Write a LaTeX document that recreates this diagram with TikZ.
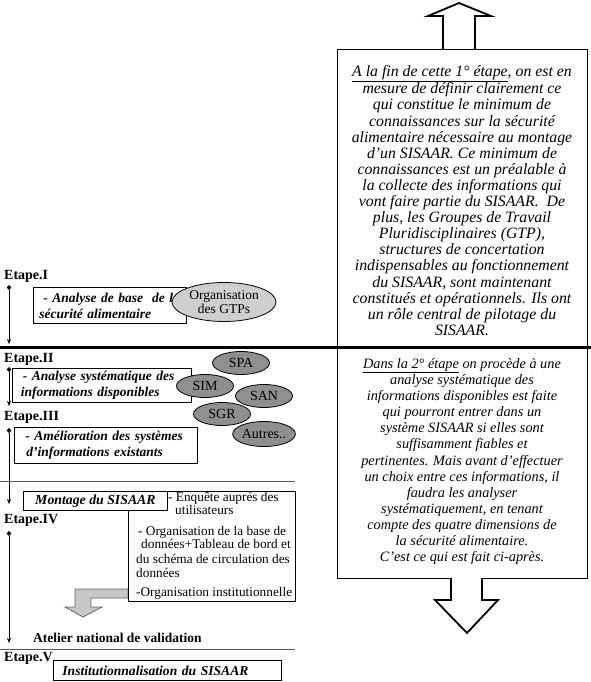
\documentclass[tikz,border=0pt]{standalone}
\usepackage{fontspec}
\setmainfont{Liberation Serif}
\usetikzlibrary{arrows.meta,shapes.geometric}
\begin{document}
\begin{tikzpicture}[x=1pt,y=-1pt,
  etape/.style={font=\fontsize{14}{15}\selectfont\bfseries, anchor=west, inner sep=0},
  stepbox/.style={draw, line width=0.9pt, fill=white, inner xsep=6pt, inner ysep=0, align=left,
    font=\fontsize{13.5}{16}\selectfont\bfseries\itshape, anchor=north west},
  span/.style={line width=0.6pt, {Diamond[length=5pt,width=4.5pt]}-{Stealth[length=5pt,width=4pt]}},
  lightell/.style={ellipse, draw, line width=0.8pt, fill=black!19, inner sep=0, font=\fontsize{13.5}{14.5}\selectfont, align=center},
  darkell/.style={ellipse, draw, line width=0.8pt, fill=black!44, inner sep=0, minimum width=57pt, minimum height=23pt, font=\fontsize{14}{15}\selectfont},
  rtext/.style={align=center, inner sep=0, anchor=north, font=\fontsize{15.8}{16.1}\selectfont\itshape},
  ltext/.style={align=left, inner sep=0, anchor=north west, font=\fontsize{13.3}{13}\selectfont},
  sep/.style={draw=black!65, line width=0.6pt},
  hollow/.style={draw=black, line width=1.8pt, line join=miter, fill=white}
]
\useasboundingbox (0,0) rectangle (591,682);

% right box and arrows
\node[draw, line width=0.9pt, minimum width=250pt, minimum height=529pt, anchor=north west, inner sep=0] (rbox) at (337,49) {};
\draw[hollow] (443,49) -- (443,16) -- (428,16) -- (459,3) -- (491,16) -- (475,16) -- (475,49);
\draw[hollow] (451,578) -- (451,600) -- (435,600) -- (467,633) -- (498,600) -- (482,600) -- (482,578);

\node[rtext] (t1) at (462,65) {\underline{A la fin de cette 1° étape}, on est en\\
mesure de définir clairement ce\\
qui constitue le minimum de\\
connaissances sur la sécurité\\
alimentaire nécessaire au montage\\
d'un SISAAR. Ce minimum de\\
connaissances est un préalable à\\
la collecte des informations qui\\
vont faire partie du SISAAR.\ \ De\\
plus, les Groupes de Travail\\
Pluridisciplinaires (GTP),\\
structures de concertation\\
indispensables au fonctionnement\\
du SISAAR, sont maintenant\\
constitués et opérationnels. Ils ont\\
un rôle central de pilotage du\\
SISAAR.};

\node[rtext, font=\fontsize{14.3}{16.15}\selectfont\itshape] (t2) at (462,358) {\underline{Dans la 2° étape} on procède à une\\
analyse systématique des\\
informations disponibles est faite\\
qui pourront entrer dans un\\
système SISAAR si elles sont\\
suffisamment fiables et\\
pertinentes. Mais avant d'effectuer\\
un choix entre ces informations, il\\
faudra les analyser\\
systématiquement, en tenant\\
compte des quatre dimensions de\\
la sécurité alimentaire.\\
C'est ce qui est fait ci-après.};

% thick separator
\coordinate (thl) at (0,347);
\coordinate (thr) at (591,347);
\draw[line width=3pt] (thl) -- (thr);

% Etape I
\node[etape] (e1) at (4,276) {Etape.I};
\coordinate (s1a) at (9,285); \coordinate (s1b) at (9,344);
\draw[span] (s1a) -- (s1b);
\node[stepbox, minimum width=153pt, minimum height=36pt, text width=141pt] (b1) at (33,287)
  {\hspace*{4pt}- Analyse de base\ \ de la\\sécurité alimentaire};
\node[lightell, minimum width=104pt, minimum height=39pt] (gtp) at (224,302) {Organisation\\des GTPs};

% Etape II
\node[etape] (e2) at (4,359) {Etape.II};
\coordinate (s2a) at (9,367); \coordinate (s2b) at (9,406);
\draw[span] (s2a) -- (s2b);
\node[stepbox, minimum width=179pt, minimum height=34pt, text width=170pt, inner xsep=4pt] (b2) at (12,368)
  {\hspace*{6pt}- Analyse systématique des\\\hspace*{4pt}informations disponibles};

% Etape III
\node[etape] (e3) at (4,417) {Etape.III};
\coordinate (s3a) at (9,428); \coordinate (s3b) at (9,504);
\draw[span] (s3a) -- (s3b);
\node[stepbox, minimum width=183pt, minimum height=36pt, text width=173pt, inner xsep=5pt] (b3) at (14,427)
  {\hspace*{6pt}- Amélioration des systèmes\\\hspace*{7pt}d'informations existants};

% system ellipses
\node[darkell] (spa) at (241,363) {SPA};
\node[darkell] (sim) at (205,386) {SIM};
\node[darkell] (san) at (264,396) {SAN};
\node[darkell] (sgr) at (222,414) {SGR};
\node[darkell, minimum height=25pt] (aut) at (264,434) {Autres..};

\draw[sep] (0,481) -- (295,481);

% Etape IV
\draw[fill=black!22, draw=black!60, line width=0.8pt] (128,589) -- (75,589) -- (75,607) -- (65,607) -- (83,617) -- (102,607) -- (91,607) -- (91,598) -- (128,598) -- cycle;
\node[draw, line width=0.9pt, fill=white, minimum width=167pt, minimum height=110pt, anchor=north west, inner sep=0] (lbox) at (128,491) {};
\node[stepbox, minimum width=144pt, minimum height=19pt, align=center, inner xsep=0, font=\fontsize{13.8}{15}\selectfont\bfseries\itshape] (mont) at (23,491) {Montage du SISAAR};
\node[ltext] (l1) at (168,492) {- Enquête auprés des\\\hspace*{7pt}utilisateurs};
\node[ltext] (l2) at (136,526) {\hspace*{2pt}- Organisation de la base de\\\hspace*{5pt}données+Tableau de bord et\\[2pt]du schéma de circulation des\\[1pt]données};
\node[ltext] (l3) at (136,587) {-Organisation institutionnelle};

\node[etape] (e4) at (4,520) {Etape.IV};
\coordinate (s4a) at (9,531); \coordinate (s4b) at (9,643);
\draw[span] (s4a) -- (s4b);

\node[etape, font=\fontsize{13.5}{14}\selectfont\bfseries] (atel) at (33,638) {Atelier national de validation};
\draw[sep] (0,649) -- (295,649);

% Etape V
\node[etape] (e5) at (4,658) {Etape.V};
\node[stepbox, minimum width=228pt, minimum height=20pt, text width=222pt, inner xsep=3pt, font=\fontsize{13.6}{15}\selectfont\bfseries\itshape] (b5) at (53,660) {\hspace*{6pt}Institutionnalisation du SISAAR};
\end{tikzpicture}
\end{document}
